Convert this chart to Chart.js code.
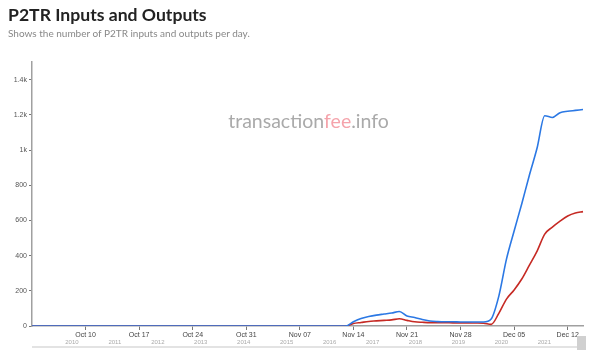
<!DOCTYPE html>
<html>
<head>
<meta charset="utf-8">
<script src="https://cdn.jsdelivr.net/npm/chart.js@4"></script>
<style>
  body { margin: 0; background: #fff; width: 602px; height: 355px; overflow: hidden; position: relative; }
  #title { position: absolute; left: 8px; top: 4px; font: bold 17.6px Lato, sans-serif; color: #222; }
  #subtitle { position: absolute; left: 8px; top: 27px; font: 10px Lato, sans-serif; color: #888; }
  #chart { position: absolute; left: 0; top: 0; }
</style>
</head>
<body>
<canvas id="chart" width="602" height="355"></canvas>
<div id="title">P2TR Inputs and Outputs</div>
<div id="subtitle">Shows the number of P2TR inputs and outputs per day.</div>
<script>
const dayLabels = [
  "Oct 03", "Oct 04", "Oct 05", "Oct 06", "Oct 07", "Oct 08", "Oct 09", "Oct 10", "Oct 11", "Oct 12",
  "Oct 13", "Oct 14", "Oct 15", "Oct 16", "Oct 17", "Oct 18", "Oct 19", "Oct 20", "Oct 21", "Oct 22",
  "Oct 23", "Oct 24", "Oct 25", "Oct 26", "Oct 27", "Oct 28", "Oct 29", "Oct 30", "Oct 31",
  "Nov 01", "Nov 02", "Nov 03", "Nov 04", "Nov 05", "Nov 06", "Nov 07", "Nov 08", "Nov 09", "Nov 10",
  "Nov 11", "Nov 12", "Nov 13", "Nov 14", "Nov 15", "Nov 16", "Nov 17", "Nov 18", "Nov 19", "Nov 20",
  "Nov 21", "Nov 22", "Nov 23", "Nov 24", "Nov 25", "Nov 26", "Nov 27", "Nov 28", "Nov 29", "Nov 30",
  "Dec 01", "Dec 02", "Dec 03", "Dec 04", "Dec 05", "Dec 06", "Dec 07", "Dec 08", "Dec 09", "Dec 10",
  "Dec 11", "Dec 12", "Dec 13", "Dec 14"
];
const weekTicks = ["Oct 10", "Oct 17", "Oct 24", "Oct 31", "Nov 07", "Nov 14", "Nov 21", "Nov 28", "Dec 05", "Dec 12"];

// Oct 03 - Nov 13: no P2TR activity before activation
const inputs = [
  0, 0, 0, 0, 0, 0, 0, 0, 0, 0,
  0, 0, 0, 0, 0, 0, 0, 0, 0, 0,
  0, 0, 0, 0, 0, 0, 0, 0, 0,
  0, 0, 0, 0, 0, 0, 0, 0, 0, 0,
  0, 0, 0, 24, 43, 54, 62, 68, 74, 82,
  57, 48, 37, 28, 25, 24, 24, 23, 23, 23,
  23, 40, 170, 380, 540, 695, 858, 1011, 1195, 1185,
  1212, 1220, 1225, 1230
];
const outputs = [
  0, 0, 0, 0, 0, 0, 0, 0, 0, 0,
  0, 0, 0, 0, 0, 0, 0, 0, 0, 0,
  0, 0, 0, 0, 0, 0, 0, 0, 0,
  0, 0, 0, 0, 0, 0, 0, 0, 0, 0,
  0, 0, 0, 14, 20, 26, 29, 32, 35, 41,
  32, 24, 21, 19, 19, 19, 18, 18, 18, 17,
  16, 9, 72, 153, 205, 267, 346, 426, 522, 562,
  596, 625, 642, 650
];
const yearTicks = [2010, 2011, 2012, 2013, 2014, 2015, 2016, 2017, 2018, 2019, 2020, 2021];

const watermark = {
  id: "watermark",
  beforeDatasetsDraw(chart) {
    const ctx = chart.ctx;
    const parts = [["transaction", "#aaaaaa"], ["fee", "#f5a3ab"], [".info", "#aaaaaa"]];
    ctx.save();
    ctx.font = "19.5px Lato, sans-serif";
    ctx.textBaseline = "alphabetic";
    const total = parts.reduce((w, p) => w + ctx.measureText(p[0]).width, 0);
    let x = 308.5 - total / 2;
    parts.forEach(([t, c]) => {
      ctx.fillStyle = c;
      ctx.fillText(t, x, 128);
      x += ctx.measureText(t).width;
    });
    ctx.restore();
  }
};

const navigator = {
  id: "navigator",
  afterDraw(chart) {
    const ctx = chart.ctx;
    const a = chart.chartArea;
    ctx.save();
    ctx.fillStyle = "#e3e3e3";
    ctx.fillRect(a.left, 346, a.right - a.left - 6, 2);
    ctx.fillStyle = "#d0d0d0";
    ctx.fillRect(a.right - 6, 336, 9, 14);
    ctx.restore();
  }
};

new Chart(document.getElementById("chart"), {
  type: "line",
  data: {
    labels: dayLabels,
    datasets: [
      { label: "Inputs", data: inputs, borderColor: "#2b78e4", borderWidth: 1.6, pointRadius: 0, cubicInterpolationMode: "monotone" },
      { label: "Outputs", data: outputs, borderColor: "#c62a24", borderWidth: 1.6, pointRadius: 0, cubicInterpolationMode: "monotone" }
    ]
  },
  options: {
    responsive: false,
    animation: false,
    devicePixelRatio: 1,
    layout: { padding: { top: 62, right: 19, left: 0, bottom: 0 } },
    plugins: { legend: { display: false }, tooltip: { enabled: false } },
    scales: {
      x: {
        offset: false,
        afterFit: s => { s.height = 13; },
        border: { color: "#a0a0a0", width: 1.5 },
        grid: { drawOnChartArea: false, tickLength: 4, color: "#777" },
        ticks: {
          autoSkip: false, maxRotation: 0, padding: 1,
          font: { size: 7, family: "Arial" }, color: "#444",
          callback: function (v) {
            const l = this.getLabelForValue(v);
            return weekTicks.includes(l) ? l : null;
          }
        }
      },
      x2: {
        type: "linear",
        position: "bottom",
        min: 2009.07, max: 2021.9,
        afterFit: s => { s.height = 16; },
        border: { display: false },
        grid: { display: false },
        ticks: {
          stepSize: 1, padding: -8,
          font: { size: 6, family: "Arial" }, color: "#aaa",
          callback: v => yearTicks.includes(v) ? String(v) : null
        }
      },
      y: {
        min: 0, max: 1500,
        afterFit: s => { s.width = 32; },
        border: { color: "#a0a0a0", width: 1.5 },
        grid: { drawOnChartArea: false, tickLength: 3, color: "#777" },
        ticks: {
          stepSize: 200, padding: 2,
          font: { size: 7, family: "Arial" }, color: "#555",
          callback: v => v === 1500 ? null : (v >= 1000 ? (v / 1000) + "k" : v)
        }
      }
    }
  },
  plugins: [watermark, navigator]
});
</script>
</body>
</html>
